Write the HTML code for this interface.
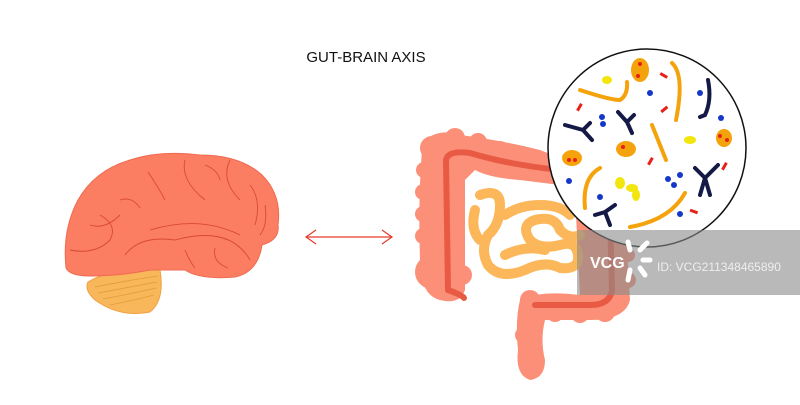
<!DOCTYPE html>
<html><head><meta charset="utf-8"><style>
html,body{margin:0;padding:0;background:#fff;width:800px;height:405px;overflow:hidden}
svg{display:block}
</style></head><body>
<svg width="800" height="405" viewBox="0 0 800 405" xmlns="http://www.w3.org/2000/svg">
<rect width="800" height="405" fill="#fff"/>
<text x="366" y="62" font-family="Liberation Sans, sans-serif" font-size="15" fill="#111" text-anchor="middle">GUT-BRAIN AXIS</text>
<!-- cerebellum -->
<path d="M88 282 Q110 268 160 270 Q165 300 150 312 Q120 318 95 300 Q84 290 88 282Z" fill="#f8b75a" stroke="#f0a040" stroke-width="1"/>
<g stroke="#e49a3a" fill="none" stroke-width="0.8">
<path d="M95 287 Q130 280 158 276"/><path d="M98 293 Q130 287 157 282"/><path d="M103 299 Q130 294 156 288"/><path d="M110 305 Q135 300 154 295"/>
</g>
<!-- brain -->
<path d="M66 268 Q62 230 78 200 Q95 170 130 160 Q160 150 200 155 Q240 155 262 175 Q282 195 278 225 Q280 240 262 245 Q258 272 235 277 Q200 280 185 270 Q170 270 150 270 Q120 276 90 276 Q70 276 66 268Z" fill="#fb7d62" stroke="#f06a50" stroke-width="1"/>
<g stroke="#d94a35" fill="none" stroke-width="0.9">
<path d="M70 250 Q95 255 110 240 Q118 225 100 215"/><path d="M90 225 Q105 230 120 215"/>
<path d="M125 255 Q140 235 175 240 Q230 225 250 260"/><path d="M150 230 Q200 215 240 235"/>
<path d="M148 172 Q160 190 165 200"/><path d="M185 160 Q180 180 205 200"/><path d="M205 165 Q218 170 220 180"/>
<path d="M230 160 Q220 180 240 200"/><path d="M250 185 Q262 200 255 225"/><path d="M265 205 Q268 225 260 235"/>
<path d="M185 250 Q190 262 195 268"/><path d="M120 200 Q132 196 140 208"/><path d="M215 248 Q212 262 228 268"/>
</g>
<!-- arrow -->
<g stroke="#e63a2a" stroke-width="1.2" fill="none">
<line x1="306" y1="237" x2="392" y2="237"/>
<path d="M316 230 L306 237 L316 244"/><path d="M382 230 L392 237 L382 244"/>
</g>
<!-- colon -->
<g fill="#fb8f78">
<path d="M425 140 Q440 128 460 135 Q500 140 540 150 L560 158 L560 185 L520 180 Q490 178 475 170 L465 180 L465 290 Q460 305 440 300 Q420 295 420 260 Q418 200 422 150Z"/>
<path d="M575 195 L625 210 L630 300 Q625 320 590 320 L545 320 Q540 340 545 360 Q545 378 530 380 Q515 375 518 350 Q515 320 520 300 Q540 290 580 295Z"/>
<circle cx="432" cy="148" r="12"/><circle cx="455" cy="138" r="10"/><circle cx="478" cy="142" r="9"/><circle cx="500" cy="150" r="9"/><circle cx="522" cy="155" r="9"/>
<circle cx="424" cy="170" r="8"/><circle cx="423" cy="192" r="8"/><circle cx="423" cy="214" r="8"/><circle cx="423" cy="236" r="8"/><circle cx="432" cy="272" r="17"/><circle cx="462" cy="275" r="10"/>
<circle cx="626" cy="230" r="7"/><circle cx="628" cy="255" r="7"/><circle cx="628" cy="280" r="8"/><circle cx="605" cy="312" r="10"/><circle cx="580" cy="314" r="9"/><circle cx="555" cy="313" r="9"/><circle cx="530" cy="300" r="10"/><circle cx="523" cy="335" r="8"/>
</g>
<g fill="none" stroke="#e95a45" stroke-width="6" stroke-linecap="round">
<path d="M448 290 L446 160 Q448 150 470 153 Q510 165 560 170"/>
<path d="M448 290 Q462 295 464 298"/>
<path d="M610 215 L612 290 Q610 305 590 305 L535 305"/>
</g>
<!-- small intestine -->
<g fill="none" stroke="#fbb75a" stroke-width="10" stroke-linejoin="round" stroke-linecap="round">
<path d="M480 195 Q500 188 500 205 Q500 225 488 235 Q480 250 488 265 Q500 280 525 270 Q545 260 560 268 Q580 270 578 255 Q576 240 560 245 Q540 250 530 240 Q520 225 535 220 Q555 215 560 230 Q570 240 580 235"/>
<path d="M505 215 Q520 205 540 205 Q560 205 570 215"/>
<path d="M475 210 Q470 230 480 240"/>
<path d="M505 255 Q525 245 545 250"/>
</g>
<!-- circle -->
<circle cx="647" cy="148" r="99" fill="#fff" stroke="#111" stroke-width="1.5"/>
<g fill="none" stroke="#f5a30c" stroke-width="4" stroke-linecap="round">
<path d="M580 90 Q610 100 620 100 Q628 95 627 82"/>
<path d="M672 63 Q685 75 676 120"/>
<path d="M652 125 Q660 145 666 160"/>
<path d="M600 168 Q582 178 585 208"/>
<path d="M685 193 Q670 220 630 227"/>
</g>
<g fill="#f5a30c"><ellipse cx="640" cy="70" rx="9" ry="12"/><ellipse cx="572" cy="158" rx="10" ry="8"/><ellipse cx="626" cy="149" rx="10" ry="8"/><ellipse cx="724" cy="138" rx="8" ry="9"/></g>
<g fill="#e8201a"><circle cx="640" cy="64" r="2"/><circle cx="638" cy="76" r="2"/><circle cx="569" cy="160" r="2"/><circle cx="575" cy="160" r="2"/><circle cx="623" cy="147" r="2"/><circle cx="720" cy="136" r="2"/><circle cx="727" cy="140" r="2"/>
<rect x="660" y="74" width="8" height="3" transform="rotate(30 664 75)"/><rect x="575" y="106" width="8" height="3" transform="rotate(-60 579 107)"/><rect x="660" y="108" width="8" height="3" transform="rotate(-40 664 109)"/><rect x="646" y="160" width="8" height="3" transform="rotate(-60 650 161)"/><rect x="720" y="165" width="8" height="3" transform="rotate(-60 724 166)"/><rect x="690" y="210" width="8" height="3" transform="rotate(20 694 211)"/></g>
<g fill="#f2e60e"><ellipse cx="607" cy="80" rx="5" ry="4"/><ellipse cx="690" cy="140" rx="6" ry="4"/><ellipse cx="620" cy="183" rx="5" ry="6"/><ellipse cx="632" cy="188" rx="6" ry="4"/><ellipse cx="636" cy="195" rx="4" ry="6"/></g>
<g fill="#1638c8"><circle cx="650" cy="93" r="3"/><circle cx="700" cy="93" r="3"/><circle cx="602" cy="117" r="3"/><circle cx="603" cy="124" r="3"/><circle cx="721" cy="118" r="3"/><circle cx="569" cy="181" r="3"/><circle cx="600" cy="197" r="3"/><circle cx="668" cy="179" r="3"/><circle cx="674" cy="185" r="3"/><circle cx="680" cy="175" r="3"/><circle cx="680" cy="214" r="3"/></g>
<g fill="none" stroke="#141a45" stroke-width="4" stroke-linecap="round">
<path d="M565 125 L583 130 L592 140 M583 130 L590 123"/>
<path d="M618 112 L627 122 L632 133 M627 122 L634 115"/>
<path d="M708 80 Q712 100 705 115 L700 117"/>
<path d="M695 168 L705 178 L700 195 M705 178 L718 165 M705 178 L710 195"/>
<path d="M595 215 L605 212 L615 205 M605 212 L610 225"/>
</g>
<!-- watermark -->
<rect x="577" y="230" width="223" height="65" fill="#8a8a8a" fill-opacity="0.6"/>
<text x="590" y="268" font-family="Liberation Sans, sans-serif" font-size="16" font-weight="bold" fill="#fff">VCG</text>
<g stroke="#fff" stroke-width="5" stroke-linecap="round"><line x1="630" y1="250" x2="628" y2="242"/><line x1="640" y1="250" x2="647" y2="243"/><line x1="643" y1="260" x2="650" y2="260"/><line x1="640" y1="268" x2="645" y2="275"/><line x1="630" y1="270" x2="628" y2="280"/></g>
<text x="657" y="271" font-family="Liberation Sans, sans-serif" font-size="12" fill="#eee">ID: VCG211348465890</text>
</svg>
</body></html>
